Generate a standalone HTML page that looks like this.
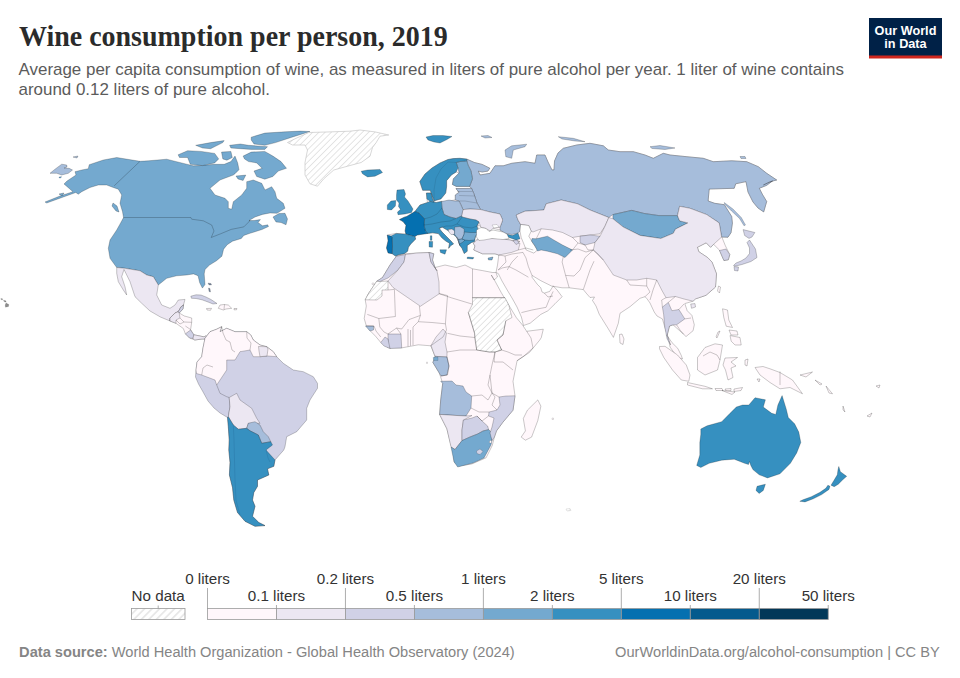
<!DOCTYPE html>
<html><head><meta charset="utf-8">
<style>
html,body{margin:0;padding:0;background:#fff;width:960px;height:678px;overflow:hidden}
svg{display:block}
.sans{font-family:"Liberation Sans",sans-serif}
.serif{font-family:"Liberation Serif",serif}
</style></head>
<body>
<svg width="960" height="678" viewBox="0 0 960 678">
<defs>
<pattern id="hatch" patternUnits="userSpaceOnUse" width="4.4" height="4.4" patternTransform="rotate(-45)">
<rect width="4.4" height="4.4" fill="#ffffff"/>
<line x1="0" y1="2.2" x2="4.4" y2="2.2" stroke="#e0e0e0" stroke-width="0.85"/>
</pattern>
<pattern id="hatch2" patternUnits="userSpaceOnUse" width="5.3" height="5.3" patternTransform="rotate(-45)">
<rect width="5.3" height="5.3" fill="#ffffff"/>
<line x1="0" y1="2.65" x2="5.3" y2="2.65" stroke="#d2d2d2" stroke-width="0.9"/>
</pattern>
</defs>
<rect width="960" height="678" fill="#ffffff"/>
<text class="serif" transform="translate(18.9,45.7) scale(1,1.065)" x="0" y="0" font-size="28" font-weight="bold" fill="#2b2b2b">Wine consumption per person, 2019</text>
<text class="sans" x="18.5" y="75.1" font-size="16.95" fill="#5b5b5b">Average per capita consumption of wine, as measured in liters of pure alcohol per year. 1 liter of wine contains</text>
<text class="sans" x="18.5" y="95.1" font-size="16.95" fill="#5b5b5b">around 0.12 liters of pure alcohol.</text>
<g>
<rect x="869" y="18" width="73" height="40" fill="#002147"/>
<rect x="869" y="55.5" width="73" height="3" fill="#ce261e"/>
<text class="sans" x="905.5" y="34.8" font-size="12.7" font-weight="bold" fill="#ffffff" text-anchor="middle">Our World</text>
<text class="sans" x="905.5" y="48.4" font-size="12.7" font-weight="bold" fill="#ffffff" text-anchor="middle">in Data</text>
</g>
<g id="map">
<path d="M45.0,202.0 L60.0,196.0 L73.0,191.7 L64.0,184.0 L67.0,181.0 L76.0,175.0 L75.0,171.7 L81.7,170.0 L88.3,168.7 L89.2,164.7 L103.3,160.0 L116.7,157.5 L140.0,161.3 L148.3,160.8 L166.7,159.2 L176.7,161.7 L186.7,164.2 L193.3,165.8 L199.8,165.6 L214.7,164.3 L224.2,164.3 L230.9,161.6 L235.0,156.1 L237.7,162.9 L239.0,169.7 L235.0,173.7 L233.3,175.0 L220.0,180.0 L210.0,188.3 L215.0,195.0 L225.0,198.3 L228.3,201.7 L228.3,208.3 L231.7,209.2 L233.3,201.7 L241.7,195.0 L246.7,188.3 L246.7,181.7 L253.3,180.0 L261.7,183.3 L265.0,190.0 L271.7,186.7 L275.0,191.7 L276.7,198.3 L283.3,203.3 L285.0,208.3 L277.0,213.3 L270.0,213.0 L262.5,214.4 L255.0,217.0 L249.0,220.6 L254.0,220.5 L260.4,219.6 L258.0,222.5 L262.5,225.8 L267.7,224.8 L268.5,226.5 L262.0,229.5 L254.2,232.0 L250.0,233.3 L243.8,235.4 L241.3,238.5 L232.5,241.2 L227.2,244.7 L223.6,249.2 L221.9,256.2 L216.5,260.7 L209.5,265.1 L205.0,269.5 L204.2,273.9 L205.0,284.6 L202.4,288.1 L199.7,282.8 L198.0,275.7 L193.5,273.9 L186.7,275.0 L176.7,275.8 L166.7,278.3 L158.3,285.0 L153.3,276.7 L146.7,275.0 L140.0,270.8 L125.0,268.3 L116.7,267.5 L110.0,258.3 L108.3,248.3 L110.0,240.0 L116.7,230.0 L121.7,221.0 L123.5,217.5 L122.5,211.7 L120.0,203.3 L121.7,195.0 L118.3,189.2 L113.3,187.5 L106.7,185.0 L98.3,185.0 L90.0,187.5 L81.7,191.7 L78.3,194.2 L75.8,192.5 L46.7,203.0Z" fill="#74a9cf" stroke="rgba(0,0,0,0.36)" stroke-width="0.6" stroke-linejoin="round"/>
<path d="M140.0,161.3 L114.2,185.8" fill="none" stroke="rgba(0,0,0,0.36)" stroke-width="0.6" stroke-linejoin="round"/>
<path d="M123.5,217.5 L190.8,217.5 L191.7,219.2 L203.3,220.8 L211.7,225.0 L214.0,231.0 L211.2,237.5 L220.6,233.8 L231.2,229.4 L243.8,226.9 L248.8,221.9 L250.0,220.0" fill="none" stroke="rgba(0,0,0,0.36)" stroke-width="0.6" stroke-linejoin="round"/>
<path d="M113.0,203.0 L117.0,206.0 L119.0,212.0 L116.0,211.0 L112.0,206.0Z" fill="#74a9cf" stroke="rgba(0,0,0,0.36)" stroke-width="0.6" stroke-linejoin="round"/>
<path d="M273.0,217.0 L279.0,213.5 L285.0,213.3 L287.5,219.0 L286.0,224.8 L281.0,222.5 L276.0,222.0Z" fill="#74a9cf" stroke="rgba(0,0,0,0.36)" stroke-width="0.6" stroke-linejoin="round"/>
<path d="M243.1,156.1 L251.2,152.1 L264.8,151.4 L272.9,156.1 L281.0,161.6 L286.5,168.3 L278.3,171.0 L272.9,176.5 L264.8,179.2 L256.7,176.5 L254.0,171.0 L262.1,168.3 L256.7,162.9 L248.5,161.6 L244.5,158.9Z" fill="#74a9cf" stroke="rgba(0,0,0,0.36)" stroke-width="0.6" stroke-linejoin="round"/>
<path d="M236.0,176.0 L245.8,175.1 L243.1,180.5 L238.0,179.0Z" fill="#74a9cf" stroke="rgba(0,0,0,0.36)" stroke-width="0.6" stroke-linejoin="round"/>
<path d="M178.1,154.8 L187.6,150.7 L201.1,151.4 L214.7,153.4 L218.7,158.9 L214.7,162.9 L202.5,165.6 L190.3,164.3 L187.6,157.5 L179.5,157.5Z" fill="#74a9cf" stroke="rgba(0,0,0,0.36)" stroke-width="0.6" stroke-linejoin="round"/>
<path d="M195.7,145.3 L210.6,142.6 L224.2,140.6 L222.8,142.6 L210.6,148.7 L202.5,148.0Z" fill="#74a9cf" stroke="rgba(0,0,0,0.36)" stroke-width="0.6" stroke-linejoin="round"/>
<path d="M251.2,137.2 L264.8,133.1 L285.1,131.8 L300.0,131.1 L310.0,131.5 L291.9,137.2 L275.6,142.6 L264.8,145.3 L254.0,144.0 L251.2,139.9Z" fill="#74a9cf" stroke="rgba(0,0,0,0.36)" stroke-width="0.6" stroke-linejoin="round"/>
<path d="M229.6,145.3 L240.4,144.0 L248.5,145.3 L267.5,146.7 L264.8,149.4 L251.2,149.4 L240.4,148.7 L230.9,148.0Z" fill="#74a9cf" stroke="rgba(0,0,0,0.36)" stroke-width="0.6" stroke-linejoin="round"/>
<path d="M221.5,152.1 L230.9,151.4 L232.3,157.5 L226.9,160.2 L222.8,158.9Z" fill="#74a9cf" stroke="rgba(0,0,0,0.36)" stroke-width="0.6" stroke-linejoin="round"/>
<path d="M59.0,194.0 L64.0,193.0 L62.0,196.0Z" fill="#74a9cf" stroke="rgba(0,0,0,0.36)" stroke-width="0.6" stroke-linejoin="round"/>
<path d="M50.0,173.3 L55.0,169.2 L61.7,164.2 L66.7,165.0 L67.0,167.0 L64.0,168.0 L69.2,168.3 L72.5,170.0 L68.3,173.3 L61.7,175.0 L56.7,173.3Z" fill="#a6bddb" stroke="rgba(0,0,0,0.36)" stroke-width="0.6" stroke-linejoin="round"/>
<path d="M59.0,177.0 L61.5,176.5 L61.0,178.0 L59.0,178.0Z" fill="#74a9cf" stroke="rgba(0,0,0,0.36)" stroke-width="0.35" stroke-linejoin="round"/>
<path d="M73.0,157.0 L78.0,156.0 L77.0,158.0Z" fill="#a6bddb" stroke="rgba(0,0,0,0.36)" stroke-width="0.6" stroke-linejoin="round"/>
<path d="M0.8,298.6 L2.5,298.8 L2.6,299.8 L1.0,299.6Z" fill="#8c8c8c" stroke="rgba(0,0,0,0.36)" stroke-width="0.3" stroke-linejoin="round"/>
<path d="M3.5,300.2 L5.8,300.8 L6.2,302.2 L4.0,301.6Z" fill="#8c8c8c" stroke="rgba(0,0,0,0.36)" stroke-width="0.3" stroke-linejoin="round"/>
<path d="M6.0,303.0 L8.8,304.5 L8.5,306.5 L5.5,307.2 L5.2,305.0Z" fill="#8c8c8c" stroke="rgba(0,0,0,0.36)" stroke-width="0.3" stroke-linejoin="round"/>
<path d="M287.5,142.5 L295.0,138.8 L308.8,132.5 L330.0,131.9 L350.0,131.2 L360.0,130.0 L375.0,131.9 L388.8,135.0 L380.0,136.2 L376.2,142.5 L372.5,147.5 L370.0,156.2 L361.2,162.5 L347.5,166.2 L333.8,170.0 L323.8,178.8 L317.5,186.2 L310.0,183.8 L305.0,175.0 L305.0,162.5 L307.5,150.0 L305.0,145.0 L292.5,145.0Z" fill="url(#hatch)" stroke="#bdbdbd" stroke-width="0.6" stroke-linejoin="round"/>
<path d="M361.2,171.2 L367.5,170.0 L380.0,169.4 L382.5,172.5 L375.0,176.2 L367.5,176.9 L362.5,173.8Z" fill="#3690c0" stroke="rgba(0,0,0,0.36)" stroke-width="0.6" stroke-linejoin="round"/>
<path d="M116.7,267.5 L125.0,268.3 L140.0,270.8 L146.7,275.0 L153.3,276.7 L158.3,285.0 L156.7,295.0 L161.7,305.0 L170.0,308.3 L175.0,305.0 L178.3,300.0 L185.0,299.4 L183.5,305.0 L181.2,306.7 L178.3,311.7 L175.0,313.0 L170.0,318.0 L170.0,321.0 L168.8,320.5 L160.4,317.0 L150.0,311.0 L141.7,303.3 L135.0,296.7 L130.0,281.7 L124.0,269.5 L121.7,276.7 L125.0,286.7 L126.7,295.0 L123.3,290.0 L118.3,281.7 L116.7,273.3Z" fill="#ece7f2" stroke="rgba(0,0,0,0.36)" stroke-width="0.6" stroke-linejoin="round"/>
<path d="M175.0,313.0 L178.3,311.7 L181.2,306.7 L183.5,305.0 L183.0,309.0 L179.2,313.0 L184.4,316.0 L191.7,318.0 L191.7,322.3 L190.6,329.6 L193.8,334.8 L199.0,335.8 L204.0,336.9 L206.2,335.8 L208.0,338.0 L206.2,339.0 L202.0,339.0 L194.8,340.0 L189.6,338.0 L185.4,333.8 L183.3,328.5 L176.0,323.3 L170.0,321.0 L170.0,318.0Z" fill="#fff7fb" stroke="rgba(0,0,0,0.36)" stroke-width="0.6" stroke-linejoin="round"/>
<path d="M170.0,318.0 L175.0,313.0 L178.3,311.7 L179.2,313.0 L180.0,318.0 L176.0,320.0 L176.0,323.3 L170.0,321.0Z" fill="#ece7f2" stroke="rgba(0,0,0,0.36)" stroke-width="0.6" stroke-linejoin="round"/>
<path d="M178.3,311.7 L181.2,306.7 L183.5,305.0 L183.0,309.0 L179.2,313.0Z" fill="#d0d1e6" stroke="rgba(0,0,0,0.36)" stroke-width="0.6" stroke-linejoin="round"/>
<path d="M180.0,318.0 L184.0,322.0 L191.7,322.3" fill="none" stroke="rgba(0,0,0,0.36)" stroke-width="0.6" stroke-linejoin="round"/>
<path d="M176.0,320.0 L180.0,324.0 L184.0,322.0" fill="none" stroke="rgba(0,0,0,0.36)" stroke-width="0.6" stroke-linejoin="round"/>
<path d="M185.4,326.0 L190.6,329.6" fill="none" stroke="rgba(0,0,0,0.36)" stroke-width="0.6" stroke-linejoin="round"/>
<path d="M185.4,333.8 L190.6,330.0 L193.8,334.8 L193.0,338.5 L189.6,338.0Z" fill="#d0d1e6" stroke="rgba(0,0,0,0.36)" stroke-width="0.6" stroke-linejoin="round"/>
<path d="M193.8,334.8 L199.0,335.8 L204.0,336.9 L206.2,335.8 L208.0,338.0 L206.2,339.0 L202.0,339.0 L194.8,340.0 L193.0,338.5Z" fill="#ece7f2" stroke="rgba(0,0,0,0.36)" stroke-width="0.6" stroke-linejoin="round"/>
<path d="M190.8,296.2 L196.0,294.8 L201.0,295.0 L206.0,297.0 L211.0,299.5 L217.0,303.5 L213.0,304.0 L208.0,302.0 L202.0,299.8 L196.0,298.5 L191.5,298.3Z" fill="#d0d1e6" stroke="rgba(0,0,0,0.36)" stroke-width="0.6" stroke-linejoin="round"/>
<path d="M220.0,305.0 L224.0,304.5 L228.3,305.0 L231.7,308.3 L226.0,309.0 L223.3,310.0 L218.3,308.3Z" fill="#fff7fb" stroke="rgba(0,0,0,0.36)" stroke-width="0.6" stroke-linejoin="round"/>
<path d="M224.5,304.5 L224.0,309.5" fill="none" stroke="rgba(0,0,0,0.36)" stroke-width="0.6" stroke-linejoin="round"/>
<path d="M206.5,308.5 L211.5,308.3 L210.5,310.3 L207.0,310.0Z" fill="#fff7fb" stroke="rgba(0,0,0,0.36)" stroke-width="0.6" stroke-linejoin="round"/>
<path d="M208.0,283.0 L211.0,283.5 L211.5,285.0 L209.0,285.0Z" fill="#7a8aa0" stroke="rgba(0,0,0,0.36)" stroke-width="0.4" stroke-linejoin="round"/>
<path d="M208.5,288.0 L210.0,288.5 L210.5,292.0 L209.0,291.5Z" fill="#7a8aa0" stroke="rgba(0,0,0,0.36)" stroke-width="0.4" stroke-linejoin="round"/>
<path d="M234.0,308.5 L237.0,308.5 L236.5,309.8 L234.0,309.8Z" fill="#fff7fb" stroke="rgba(0,0,0,0.36)" stroke-width="0.6" stroke-linejoin="round"/>
<path d="M205.0,338.3 L210.0,331.7 L216.7,329.2 L221.7,326.7 L220.0,331.7 L226.7,328.3 L235.0,331.7 L246.7,331.7 L250.8,335.0 L253.3,340.0 L260.0,345.0 L266.7,346.7 L273.3,351.7 L276.7,356.7 L283.3,363.3 L293.3,370.0 L303.3,371.7 L313.3,376.7 L317.5,383.3 L317.5,388.3 L310.0,400.0 L306.7,408.3 L306.7,420.0 L296.7,431.7 L286.7,436.7 L285.0,446.7 L283.8,450.0 L275.0,460.0 L273.8,466.3 L267.5,468.8 L268.8,475.0 L257.5,480.0 L257.5,486.3 L253.8,492.5 L252.5,500.0 L255.0,506.3 L252.5,516.3 L258.8,522.5 L265.0,525.6 L255.0,526.3 L245.0,521.3 L237.5,512.5 L233.8,500.0 L232.5,487.5 L229.4,475.0 L230.0,462.5 L228.8,450.0 L229.2,440.0 L228.3,426.7 L227.5,417.5 L220.0,413.0 L214.0,408.0 L208.0,401.0 L202.5,391.0 L198.5,384.0 L195.5,377.0 L196.0,370.0 L197.0,362.0 L201.7,356.7 L203.0,348.0Z" fill="#d0d1e6" stroke="rgba(0,0,0,0.36)" stroke-width="0.6" stroke-linejoin="round"/>
<path d="M205.0,338.3 L210.0,331.7 L216.7,329.2 L221.7,326.7 L220.0,331.7 L226.7,328.3 L235.0,331.7 L246.7,331.7 L250.8,335.0 L253.3,340.0 L260.0,345.0 L266.7,346.7 L273.3,351.7 L276.7,356.7 L268.0,356.0 L260.0,356.7 L253.3,356.7 L250.0,350.0 L240.0,351.7 L235.0,360.0 L226.7,360.0 L226.7,370.0 L216.7,385.0 L215.0,380.0 L201.7,375.0 L196.5,373.5 L196.0,370.0 L197.0,362.0 L201.7,356.7 L203.0,348.0Z" fill="#fff7fb" stroke="rgba(0,0,0,0.36)" stroke-width="0.6" stroke-linejoin="round"/>
<path d="M221.7,326.7 L223.0,333.0 L226.0,340.0 L230.0,342.0 L232.0,350.0 L235.0,352.0" fill="none" stroke="rgba(0,0,0,0.36)" stroke-width="0.6" stroke-linejoin="round"/>
<path d="M246.7,331.7 L247.0,338.0 L251.0,343.0 L250.0,350.0" fill="none" stroke="rgba(0,0,0,0.36)" stroke-width="0.6" stroke-linejoin="round"/>
<path d="M258.5,346.5 L266.7,346.7 L268.0,349.0 L267.0,356.0 L260.0,356.7 L259.0,351.0Z" fill="#ece7f2" stroke="rgba(0,0,0,0.36)" stroke-width="0.6" stroke-linejoin="round"/>
<path d="M201.7,375.0 L203.0,368.0 L207.0,365.0 L213.0,367.0" fill="none" stroke="rgba(0,0,0,0.36)" stroke-width="0.6" stroke-linejoin="round"/>
<path d="M216.7,385.0 L220.0,393.3 L226.7,396.7 L229.2,397.5 L230.0,406.7 L228.3,416.7 L227.5,417.5" fill="none" stroke="rgba(0,0,0,0.36)" stroke-width="0.6" stroke-linejoin="round"/>
<path d="M229.2,397.5 L236.7,393.3 L240.0,400.0 L251.7,408.3 L256.7,418.3 L260.0,423.3 L248.3,423.3 L246.7,428.3 L238.3,429.2 L233.3,425.0 L228.3,416.7 L230.0,406.7Z" fill="#ece7f2" stroke="rgba(0,0,0,0.36)" stroke-width="0.6" stroke-linejoin="round"/>
<path d="M248.3,423.3 L255.0,421.7 L260.0,425.0 L263.3,431.7 L268.3,436.7 L270.8,441.7 L261.7,443.3 L258.3,435.0 L250.0,430.8 L246.7,428.3Z" fill="#a6bddb" stroke="rgba(0,0,0,0.36)" stroke-width="0.6" stroke-linejoin="round"/>
<path d="M227.5,417.5 L228.3,416.7 L233.3,425.0 L238.3,429.2 L246.7,428.3 L250.0,430.8 L258.3,435.0 L261.7,443.3 L270.8,441.7 L272.5,445.0 L266.0,450.0 L275.0,460.0 L273.8,466.3 L267.5,468.8 L268.8,475.0 L257.5,480.0 L257.5,486.3 L253.8,492.5 L252.5,500.0 L255.0,506.3 L252.5,516.3 L258.8,522.5 L265.0,525.6 L255.0,526.3 L245.0,521.3 L237.5,512.5 L233.8,500.0 L232.5,487.5 L229.4,475.0 L230.0,462.5 L228.8,450.0 L229.2,440.0 L228.3,426.7Z" fill="#3690c0" stroke="rgba(0,0,0,0.36)" stroke-width="0.6" stroke-linejoin="round"/>
<path d="M233.3,425.0 L234.0,440.0 L234.5,460.0 L235.0,480.0 L236.0,500.0 L240.0,515.0" fill="none" stroke="#2a78a8" stroke-width="0.5" stroke-linejoin="round"/>
<path d="M266.0,450.0 L268.0,458.0 L270.0,462.0" fill="none" stroke="#2a78a8" stroke-width="0.5" stroke-linejoin="round"/>
<path d="M387.3,235.0 L396.2,233.4 L406.0,234.2 L405.1,231.0 L406.0,225.3 L403.0,221.5 L399.5,219.6 L404.3,217.2 L406.8,216.4 L412.4,213.1 L414.9,211.5 L420.0,205.0 L427.5,202.5 L426.9,198.8 L426.4,193.0 L431.0,193.0 L432.5,198.8 L434.0,202.0 L436.3,202.5 L441.3,201.3 L443.8,201.8 L455.3,199.9 L455.3,195.0 L459.1,192.2 L457.0,190.0 L456.0,188.5 L471.6,188.4 L469.6,186.4 L456.2,186.4 L452.4,184.5 L453.4,178.8 L459.1,173.0 L456.2,172.0 L451.4,174.9 L446.6,180.7 L446.6,186.4 L445.7,193.1 L440.9,198.9 L434.2,200.8 L432.3,196.0 L430.3,190.3 L422.7,190.3 L419.8,181.6 L425.0,174.0 L432.0,168.0 L440.0,163.0 L448.0,159.5 L453.4,158.6 L460.0,158.3 L466.8,159.1 L474.4,162.5 L482.1,164.4 L489.8,168.2 L487.9,171.1 L482.1,172.0 L478.3,171.1 L480.0,175.0 L490.0,173.3 L495.0,165.8 L503.3,165.8 L511.7,163.3 L525.0,161.7 L535.0,163.3 L536.7,155.0 L545.0,155.0 L548.0,162.0 L552.0,170.0 L554.0,170.0 L554.5,161.0 L558.0,153.0 L563.3,148.3 L576.7,145.0 L590.0,143.3 L603.3,145.8 L608.3,150.0 L620.0,151.7 L633.3,151.7 L645.0,155.0 L653.3,158.3 L663.3,153.3 L670.0,155.0 L686.7,156.7 L703.3,158.3 L713.3,161.7 L731.7,160.8 L746.7,161.7 L758.3,166.7 L766.7,173.3 L776.7,180.0 L770.0,181.7 L763.3,185.0 L772.6,180.9 L766.7,185.3 L759.3,188.3 L762.3,194.2 L766.7,201.5 L763.7,211.9 L758.0,208.0 L753.0,202.0 L748.0,192.0 L746.0,181.6 L735.7,183.8 L734.2,188.3 L709.2,189.0 L708.1,201.0 L714.7,203.3 L724.3,204.7 L728.0,210.6 L731.7,216.5 L732.4,223.2 L731.0,232.7 L728.0,237.2 L721.7,237.0 L722.4,238.4 L725.4,245.8 L729.8,254.6 L728.3,259.8 L723.9,260.5 L719.5,250.2 L713.6,244.3 L710.6,247.3 L706.2,242.8 L697.4,247.3 L698.8,251.7 L707.7,257.6 L712.0,262.0 L716.5,273.8 L715.5,287.0 L706.0,295.3 L695.5,298.9 L693.0,301.2 L684.8,303.6 L687.2,310.7 L691.9,315.4 L694.3,324.8 L693.1,330.7 L686.0,336.6 L683.7,334.3 L676.6,328.0 L673.0,324.8 L669.5,326.0 L667.1,335.5 L671.9,342.5 L677.8,348.4 L681.3,355.5 L682.5,359.0 L677.5,357.5 L670.0,347.0 L668.3,338.0 L664.8,327.2 L662.4,318.9 L657.0,316.0 L654.2,312.0 L650.0,303.0 L647.1,298.9 L645.0,296.7 L640.0,298.3 L630.0,306.7 L620.0,313.3 L618.3,323.3 L613.4,337.4 L608.1,328.5 L599.3,314.4 L596.0,306.0 L592.5,300.5 L594.5,297.0 L590.0,297.5 L586.5,293.5 L583.3,289.6 L569.2,287.8 L562.1,287.8 L551.5,286.0 L540.8,280.7 L532.0,275.4 L532.0,277.2 L537.3,284.3 L540.8,287.8 L542.0,292.0 L544.4,293.1 L549.7,291.4 L553.2,286.0 L556.8,289.6 L562.1,296.7 L555.0,303.8 L547.9,310.8 L540.8,314.4 L530.2,323.2 L523.5,325.5 L521.4,317.0 L517.0,307.0 L512.0,298.0 L507.2,290.0 L502.0,281.0 L498.3,273.6 L496.0,272.5 L497.5,265.0 L498.8,255.0 L495.0,253.8 L482.5,253.8 L473.8,250.0 L475.0,246.0 L473.3,243.3 L476.7,240.0 L486.7,238.3 L498.3,238.3 L510.0,240.0 L520.0,241.7 L505.0,233.3 L500.0,230.0 L493.3,228.3 L490.0,225.0 L481.7,226.7 L477.5,225.0 L478.8,220.0 L477.5,225.0 L478.8,232.5 L475.0,235.0 L474.0,242.0 L471.6,242.4 L467.2,245.4 L467.2,251.3 L464.2,253.5 L462.0,248.3 L459.8,245.4 L458.3,241.0 L456.8,237.3 L453.2,234.3 L448.0,230.6 L442.1,227.0 L439.2,228.4 L442.1,232.1 L446.5,236.5 L451.0,241.0 L453.5,243.9 L451.0,245.4 L450.2,246.1 L448.7,248.3 L449.5,243.2 L445.8,241.0 L442.1,238.0 L438.4,233.6 L432.5,232.8 L427.9,233.4 L422.2,234.2 L417.3,235.0 L414.9,236.6 L415.7,239.0 L414.0,240.7 L410.8,243.9 L408.4,247.2 L407.6,251.2 L404.3,253.7 L399.5,254.5 L395.4,256.0 L392.2,253.7 L388.1,252.9 L386.5,248.0 L388.1,240.7Z" fill="#fff7fb" stroke="rgba(0,0,0,0.36)" stroke-width="0.6" stroke-linejoin="round"/>
<path d="M466.8,159.1 L474.4,162.5 L482.1,164.4 L489.8,168.2 L487.9,171.1 L482.1,172.0 L478.3,171.1 L480.0,175.0 L490.0,173.3 L495.0,165.8 L503.3,165.8 L511.7,163.3 L525.0,161.7 L535.0,163.3 L536.7,155.0 L545.0,155.0 L548.0,162.0 L552.0,170.0 L554.0,170.0 L554.5,161.0 L558.0,153.0 L563.3,148.3 L576.7,145.0 L590.0,143.3 L603.3,145.8 L608.3,150.0 L620.0,151.7 L633.3,151.7 L645.0,155.0 L653.3,158.3 L663.3,153.3 L670.0,155.0 L686.7,156.7 L703.3,158.3 L713.3,161.7 L731.7,160.8 L746.7,161.7 L758.3,166.7 L766.7,173.3 L776.7,180.0 L770.0,181.7 L763.3,185.0 L772.6,180.9 L766.7,185.3 L759.3,188.3 L762.3,194.2 L766.7,201.5 L763.7,211.9 L758.0,208.0 L753.0,202.0 L748.0,192.0 L746.0,181.6 L735.7,183.8 L734.2,188.3 L709.2,189.0 L708.1,201.0 L714.7,203.3 L724.3,204.7 L728.0,210.6 L731.7,216.5 L732.4,223.2 L731.0,232.7 L728.0,237.2 L721.7,237.0 L721.3,235.4 L719.2,222.9 L706.7,214.6 L690.0,208.3 L679.6,206.3 L677.5,215.6 L658.8,215.6 L644.2,213.5 L631.7,210.4 L612.9,214.6 L608.8,217.5 L590.0,210.0 L577.5,203.8 L561.2,200.0 L546.2,203.8 L543.8,210.0 L525.0,211.2 L516.2,215.0 L518.0,220.0 L520.6,224.4 L520.0,231.2 L518.0,233.0 L512.0,234.5 L505.0,233.3 L500.0,230.0 L500.0,227.3 L502.7,220.0 L500.0,214.0 L490.0,212.0 L480.6,209.6 L477.0,203.0 L474.0,194.0 L471.6,188.4 L469.6,186.4 L472.5,178.8 L471.0,171.0 L468.0,165.0 L466.8,160.5Z" fill="#a6bddb" stroke="rgba(0,0,0,0.36)" stroke-width="0.6" stroke-linejoin="round"/>
<path d="M516.2,215.0 L525.0,211.2 L543.8,210.0 L546.2,203.8 L561.2,200.0 L577.5,203.8 L590.0,210.0 L608.8,217.5 L605.0,226.2 L600.0,233.8 L590.0,235.0 L580.0,236.2 L572.5,237.5 L562.5,232.5 L552.5,230.0 L541.2,228.8 L533.0,232.0 L531.2,231.2 L528.8,225.6 L520.6,224.4 L518.0,220.0Z" fill="#ece7f2" stroke="rgba(0,0,0,0.36)" stroke-width="0.6" stroke-linejoin="round"/>
<path d="M520.6,224.4 L528.8,225.6 L531.2,231.2 L528.8,236.2 L532.5,242.5 L537.5,250.0 L533.8,253.1 L526.2,250.0 L523.8,243.8 L521.2,237.5 L520.0,231.2Z" fill="#ffffff" stroke="rgba(0,0,0,0.36)" stroke-width="0.6" stroke-linejoin="round"/>
<path d="M532.0,238.5 L536.2,238.8 L547.5,236.2 L553.8,240.0 L562.5,245.0 L572.5,250.0 L565.0,257.5 L557.5,253.8 L547.5,251.2 L541.2,250.0 L537.5,251.0 L535.0,246.0 L531.5,241.0Z" fill="#74a9cf" stroke="rgba(0,0,0,0.36)" stroke-width="0.6" stroke-linejoin="round"/>
<path d="M541.2,228.8 L536.2,238.8" fill="none" stroke="rgba(0,0,0,0.36)" stroke-width="0.6" stroke-linejoin="round"/>
<path d="M572.5,237.5 L578.0,243.0 L572.5,250.0" fill="none" stroke="rgba(0,0,0,0.36)" stroke-width="0.6" stroke-linejoin="round"/>
<path d="M580.0,236.2 L590.0,235.0 L600.0,236.2 L595.0,242.5 L585.0,245.0 L580.0,242.5Z" fill="#d0d1e6" stroke="rgba(0,0,0,0.36)" stroke-width="0.6" stroke-linejoin="round"/>
<path d="M578.0,243.0 L585.0,245.0 L588.0,250.0 L593.3,250.0" fill="none" stroke="rgba(0,0,0,0.36)" stroke-width="0.6" stroke-linejoin="round"/>
<path d="M612.9,214.6 L631.7,210.4 L644.2,213.5 L658.8,215.6 L677.5,215.6 L679.6,220.8 L687.9,222.9 L675.4,229.2 L673.3,233.3 L660.8,238.5 L640.0,235.4 L623.3,227.1 L612.9,218.8Z" fill="#74a9cf" stroke="rgba(0,0,0,0.36)" stroke-width="0.6" stroke-linejoin="round"/>
<path d="M600.0,236.2 L605.0,226.2 L608.8,217.5 L612.9,218.8 L623.3,227.1 L640.0,235.4 L660.8,238.5 L673.3,233.3 L675.4,229.2 L687.9,222.9 L679.6,220.8 L677.5,215.6 L679.6,206.3 L690.0,208.3 L706.7,214.6 L719.2,222.9 L721.3,235.4 L721.7,237.0 L713.6,244.3 L710.6,247.3 L706.2,242.8 L697.4,247.3 L698.8,251.7 L707.7,257.6 L712.0,262.0 L716.5,273.8 L715.5,287.0 L706.0,295.3 L695.5,298.9 L693.0,301.2 L684.0,299.0 L675.4,296.5 L666.0,297.7 L661.7,290.0 L656.7,280.0 L646.7,278.3 L636.7,280.0 L626.7,280.0 L613.3,275.0 L610.0,270.0 L603.3,260.0 L593.3,250.0 L595.0,242.5Z" fill="#ece7f2" stroke="rgba(0,0,0,0.36)" stroke-width="0.6" stroke-linejoin="round"/>
<path d="M719.5,250.5 L726.0,249.0 L729.8,254.6 L728.3,259.8 L723.9,260.5Z" fill="#d0d1e6" stroke="rgba(0,0,0,0.36)" stroke-width="0.6" stroke-linejoin="round"/>
<path d="M743.1,229.6 L754.9,232.5 L752.0,237.0 L749.0,238.4 L744.6,235.5Z" fill="#d0d1e6" stroke="rgba(0,0,0,0.36)" stroke-width="0.6" stroke-linejoin="round"/>
<path d="M749.5,240.0 L755.5,249.0 L757.0,257.5 L751.0,261.5 L742.0,264.5 L736.0,266.0 L733.5,265.5 L736.0,263.0 L741.0,261.0 L746.0,258.0 L749.5,253.5 L749.5,248.0 L747.0,242.5Z" fill="#d0d1e6" stroke="rgba(0,0,0,0.36)" stroke-width="0.6" stroke-linejoin="round"/>
<path d="M734.0,266.5 L738.5,267.0 L738.0,271.0 L734.5,270.5Z" fill="#d0d1e6" stroke="rgba(0,0,0,0.36)" stroke-width="0.6" stroke-linejoin="round"/>
<path d="M718.5,286.0 L720.5,287.0 L719.5,293.0 L717.5,291.0Z" fill="#fff7fb" stroke="rgba(0,0,0,0.36)" stroke-width="0.6" stroke-linejoin="round"/>
<path d="M724.3,202.5 L733.0,209.0 L741.3,217.5 L745.5,225.0 L744.0,225.8 L739.5,218.5 L731.5,211.0 L724.5,204.0Z" fill="#a6bddb" stroke="rgba(0,0,0,0.36)" stroke-width="0.5" stroke-linejoin="round"/>
<path d="M690.7,304.0 L695.0,303.6 L695.5,307.0 L691.5,308.3Z" fill="#ece7f2" stroke="rgba(0,0,0,0.36)" stroke-width="0.6" stroke-linejoin="round"/>
<path d="M619.5,334.5 L622.0,334.0 L624.0,339.0 L623.0,344.5 L620.0,343.0Z" fill="#fff7fb" stroke="rgba(0,0,0,0.36)" stroke-width="0.6" stroke-linejoin="round"/>
<path d="M505.0,150.0 L511.7,145.8 L526.7,144.2 L525.0,146.7 L513.3,150.0 L511.7,158.3 L505.8,156.7Z" fill="#a6bddb" stroke="rgba(0,0,0,0.36)" stroke-width="0.6" stroke-linejoin="round"/>
<path d="M558.3,136.7 L573.3,138.3 L585.0,141.7 L575.0,141.0 L562.0,139.0Z" fill="#a6bddb" stroke="rgba(0,0,0,0.36)" stroke-width="0.6" stroke-linejoin="round"/>
<path d="M650.0,146.7 L660.0,145.5 L675.0,148.0 L665.0,149.5 L652.0,148.5Z" fill="#a6bddb" stroke="rgba(0,0,0,0.36)" stroke-width="0.6" stroke-linejoin="round"/>
<path d="M481.0,136.0 L488.0,135.5 L492.0,137.5 L485.0,138.0Z" fill="#a6bddb" stroke="rgba(0,0,0,0.36)" stroke-width="0.6" stroke-linejoin="round"/>
<path d="M740.0,156.5 L745.0,156.5 L746.0,158.5 L741.0,158.5Z" fill="#a6bddb" stroke="rgba(0,0,0,0.36)" stroke-width="0.6" stroke-linejoin="round"/>
<path d="M426.0,137.0 L433.0,135.5 L443.0,135.5 L452.0,136.5 L447.0,139.5 L440.0,143.0 L434.0,142.0 L428.0,140.0Z" fill="#3690c0" stroke="rgba(0,0,0,0.36)" stroke-width="0.6" stroke-linejoin="round"/>
<path d="M456.2,162.5 L460.0,161.5 L466.8,160.8 L468.0,165.0 L471.0,171.0 L472.5,178.8 L469.6,186.4 L463.0,186.4 L456.2,186.4 L452.4,184.5 L453.4,178.8 L459.1,173.0 L458.0,168.0Z" fill="#74a9cf" stroke="rgba(0,0,0,0.36)" stroke-width="0.6" stroke-linejoin="round"/>
<path d="M419.8,181.6 L425.0,174.0 L432.0,168.0 L440.0,163.0 L448.0,159.5 L453.4,158.6 L460.0,158.3 L466.8,159.1 L466.8,160.8 L460.0,161.5 L456.2,162.5 L458.0,168.0 L456.2,172.0 L451.4,174.9 L446.6,180.7 L446.6,186.4 L445.7,193.1 L440.9,198.9 L434.2,200.8 L432.3,196.0 L430.3,190.3 L422.7,190.3Z" fill="#3690c0" stroke="rgba(0,0,0,0.36)" stroke-width="0.6" stroke-linejoin="round"/>
<path d="M434.2,200.8 L434.0,190.0 L436.0,178.0 L441.0,169.0 L448.0,162.0 L456.2,162.5" fill="none" stroke="rgba(0,0,0,0.18)" stroke-width="0.45" stroke-linejoin="round"/>
<path d="M456.0,188.5 L463.0,188.5 L471.6,188.4 L474.0,194.0 L477.0,203.0 L480.6,209.6 L470.0,209.0 L463.0,209.6 L461.0,205.0 L459.0,201.0 L455.3,199.9 L455.3,195.0 L459.1,192.2 L457.0,190.0Z" fill="#a6bddb" stroke="rgba(0,0,0,0.36)" stroke-width="0.6" stroke-linejoin="round"/>
<path d="M457.0,191.5 L472.5,191.5" fill="none" stroke="rgba(0,0,0,0.36)" stroke-width="0.4" stroke-linejoin="round"/>
<path d="M459.1,195.5 L475.0,196.0" fill="none" stroke="rgba(0,0,0,0.36)" stroke-width="0.4" stroke-linejoin="round"/>
<path d="M459.0,201.0 L465.0,201.0 L477.0,203.0" fill="none" stroke="rgba(0,0,0,0.36)" stroke-width="0.4" stroke-linejoin="round"/>
<path d="M463.0,209.6 L470.0,209.0 L480.6,209.6 L490.0,212.0 L500.0,214.0 L502.7,220.0 L500.0,227.3 L494.0,227.5 L490.0,231.0 L486.0,228.5 L481.0,227.5 L479.0,222.0 L476.0,220.0 L470.0,219.0 L462.0,217.0 L461.5,216.0Z" fill="#ece7f2" stroke="rgba(0,0,0,0.36)" stroke-width="0.6" stroke-linejoin="round"/>
<path d="M441.5,201.5 L449.0,200.0 L455.0,201.0 L459.0,201.0 L461.0,205.0 L463.0,209.6 L461.5,216.0 L456.0,218.5 L450.0,217.0 L444.0,214.5 L442.0,208.0Z" fill="#a6bddb" stroke="rgba(0,0,0,0.36)" stroke-width="0.6" stroke-linejoin="round"/>
<path d="M414.9,211.5 L420.0,205.0 L427.5,202.5 L430.0,201.3 L436.3,202.5 L441.5,201.5 L442.0,208.0 L444.0,214.5 L450.0,217.0 L456.0,218.5 L461.5,216.0 L462.0,217.0 L470.0,219.0 L476.0,220.0 L479.0,222.0 L477.0,226.0 L478.8,232.5 L475.5,236.0 L474.5,241.5 L471.6,242.4 L467.2,245.4 L467.2,251.3 L464.2,253.5 L462.0,248.3 L459.8,245.4 L458.3,241.0 L456.8,237.3 L453.2,234.3 L448.0,230.6 L442.1,227.0 L439.2,228.4 L442.1,232.1 L446.5,236.5 L451.0,241.0 L453.5,243.9 L451.0,245.4 L450.2,246.1 L448.7,248.3 L449.5,243.2 L445.8,241.0 L442.1,238.0 L438.4,233.6 L432.5,232.8 L427.9,233.4 L425.4,231.0 L424.0,225.0 L424.6,218.8 L419.0,213.0Z" fill="#3690c0" stroke="rgba(0,0,0,0.36)" stroke-width="0.6" stroke-linejoin="round"/>
<path d="M426.4,193.0 L431.0,193.0 L432.5,198.8 L434.0,202.0 L430.0,201.3 L426.9,199.0Z" fill="#3690c0" stroke="rgba(0,0,0,0.36)" stroke-width="0.6" stroke-linejoin="round"/>
<path d="M424.6,218.8 L431.0,217.0 L437.0,214.0 L442.0,208.0" fill="none" stroke="rgba(0,0,0,0.28)" stroke-width="0.5" stroke-linejoin="round"/>
<path d="M424.0,225.0 L432.0,224.0 L441.0,222.0 L450.0,221.0 L456.0,218.5" fill="none" stroke="rgba(0,0,0,0.28)" stroke-width="0.5" stroke-linejoin="round"/>
<path d="M439.2,228.4 L446.0,226.0 L452.0,226.0 L457.0,224.0 L462.0,217.0" fill="none" stroke="rgba(0,0,0,0.28)" stroke-width="0.5" stroke-linejoin="round"/>
<path d="M457.0,224.0 L464.0,227.0 L472.0,228.0 L477.0,226.0" fill="none" stroke="rgba(0,0,0,0.28)" stroke-width="0.5" stroke-linejoin="round"/>
<path d="M448.0,229.5 L452.0,229.0 L454.6,231.0 L454.6,234.3 L451.0,234.5 L449.0,232.0Z" fill="#ece7f2" stroke="rgba(0,0,0,0.36)" stroke-width="0.6" stroke-linejoin="round"/>
<path d="M454.6,227.0 L460.0,226.5 L464.2,229.0 L464.2,234.0 L462.0,239.0 L458.5,239.5 L456.8,237.3 L454.6,234.3 L454.6,231.0Z" fill="#a6bddb" stroke="rgba(0,0,0,0.36)" stroke-width="0.6" stroke-linejoin="round"/>
<path d="M456.8,237.3 L458.5,239.5 L459.5,244.0 L459.8,245.4 L458.3,241.0Z" fill="#d0d1e6" stroke="rgba(0,0,0,0.36)" stroke-width="0.6" stroke-linejoin="round"/>
<path d="M458.5,239.5 L462.0,239.0 L465.0,240.0 L463.0,242.0 L459.5,244.0Z" fill="#74a9cf" stroke="rgba(0,0,0,0.36)" stroke-width="0.6" stroke-linejoin="round"/>
<path d="M464.2,232.0 L470.0,232.5 L478.8,232.5 L475.5,236.0 L474.5,240.0 L469.0,240.5 L465.0,240.0 L462.0,239.0 L464.2,234.0Z" fill="#74a9cf" stroke="rgba(0,0,0,0.36)" stroke-width="0.6" stroke-linejoin="round"/>
<path d="M473.3,243.3 L476.7,240.0 L486.7,238.3 L498.3,238.3 L510.0,240.0 L515.0,241.7 L520.0,243.3 L518.3,250.0 L511.3,252.5 L498.8,255.0 L495.0,253.8 L482.5,253.8 L473.8,250.0 L475.0,246.0Z" fill="#ece7f2" stroke="rgba(0,0,0,0.36)" stroke-width="0.6" stroke-linejoin="round"/>
<path d="M505.0,233.8 L512.5,235.5 L518.0,233.0 L520.0,238.8 L516.2,240.0 L508.8,237.5Z" fill="#3690c0" stroke="rgba(0,0,0,0.36)" stroke-width="0.6" stroke-linejoin="round"/>
<path d="M513.0,240.5 L517.0,240.0 L519.0,243.0 L516.0,244.5Z" fill="#d0d1e6" stroke="rgba(0,0,0,0.36)" stroke-width="0.6" stroke-linejoin="round"/>
<path d="M399.5,219.6 L404.3,217.2 L406.8,216.4 L412.4,213.1 L414.9,211.5 L419.0,213.0 L424.6,218.8 L424.0,225.0 L425.4,231.0 L427.9,233.4 L422.2,234.2 L417.3,235.0 L414.9,236.6 L406.0,234.2 L405.1,231.0 L406.0,225.3 L403.0,221.5Z" fill="#0570b0" stroke="rgba(0,0,0,0.36)" stroke-width="0.6" stroke-linejoin="round"/>
<path d="M391.0,236.0 L396.2,233.4 L406.0,234.2 L414.9,236.6 L415.7,239.0 L414.0,240.7 L410.8,243.9 L408.4,247.2 L407.6,251.2 L404.3,253.7 L399.5,254.5 L395.4,256.0 L392.2,253.7 L392.5,246.0 L392.0,237.5Z" fill="#3690c0" stroke="rgba(0,0,0,0.36)" stroke-width="0.6" stroke-linejoin="round"/>
<path d="M387.3,235.0 L391.0,236.0 L392.0,237.5 L392.5,246.0 L392.2,253.7 L388.1,252.9 L386.5,248.0 L388.1,240.7Z" fill="#0570b0" stroke="rgba(0,0,0,0.36)" stroke-width="0.6" stroke-linejoin="round"/>
<path d="M397.0,190.0 L404.0,189.5 L405.5,194.0 L404.5,197.0 L408.0,201.0 L410.5,205.0 L413.0,209.0 L411.5,212.5 L405.0,214.0 L398.0,214.7 L397.5,212.0 L400.5,209.5 L398.5,206.5 L399.0,203.0 L396.5,200.0 L396.5,195.0Z" fill="#3690c0" stroke="rgba(0,0,0,0.36)" stroke-width="0.6" stroke-linejoin="round"/>
<path d="M387.3,205.0 L391.0,201.0 L395.8,200.5 L395.4,206.0 L391.5,209.9 L387.3,209.5Z" fill="#3690c0" stroke="rgba(0,0,0,0.36)" stroke-width="0.6" stroke-linejoin="round"/>
<path d="M429.0,241.5 L432.7,241.5 L432.5,247.2 L429.2,247.0Z" fill="#3690c0" stroke="rgba(0,0,0,0.36)" stroke-width="0.6" stroke-linejoin="round"/>
<path d="M430.3,235.8 L431.9,235.8 L431.9,240.3 L430.3,240.3Z" fill="#3690c0" stroke="rgba(0,0,0,0.36)" stroke-width="0.6" stroke-linejoin="round"/>
<path d="M439.9,249.8 L446.5,249.8 L445.0,254.2 L440.5,252.5Z" fill="#3690c0" stroke="rgba(0,0,0,0.36)" stroke-width="0.6" stroke-linejoin="round"/>
<path d="M467.5,257.0 L473.8,257.5 L473.0,259.0 L467.0,258.5Z" fill="#3690c0" stroke="rgba(0,0,0,0.36)" stroke-width="0.6" stroke-linejoin="round"/>
<path d="M488.0,258.0 L493.0,257.0 L492.0,260.0 L488.5,260.0Z" fill="#74a9cf" stroke="rgba(0,0,0,0.36)" stroke-width="0.6" stroke-linejoin="round"/>
<path d="M476.5,230.0 L481.0,227.5 L486.0,228.5 L489.0,231.5 L493.0,230.0 L498.0,231.0 L503.0,232.0 L507.0,234.0 L509.0,238.5 L503.0,239.5 L492.0,238.5 L484.0,240.0 L479.0,240.5 L476.5,237.0Z" fill="#ffffff" stroke="rgba(0,0,0,0.36)" stroke-width="0.6" stroke-linejoin="round"/>
<path d="M492.0,225.0 L497.0,224.5 L499.0,227.0 L494.0,228.0Z" fill="#ffffff" stroke="rgba(0,0,0,0.36)" stroke-width="0.4" stroke-linejoin="round"/>
<path d="M396.3,256.3 L405.0,253.8 L416.3,253.1 L430.0,252.5 L433.8,253.8 L432.5,260.0 L435.0,267.5 L445.0,265.0 L456.3,267.5 L465.0,265.0 L472.5,268.8 L482.5,270.6 L492.5,272.5 L496.0,272.5 L497.5,277.0 L494.0,280.0 L491.3,275.0 L493.8,278.9 L501.3,292.7 L508.8,305.2 L516.4,317.7 L522.5,325.0 L526.7,331.3 L543.3,329.2 L541.3,337.5 L539.8,340.0 L529.5,352.4 L517.1,360.7 L513.0,381.3 L515.0,395.8 L513.0,410.2 L502.6,422.6 L496.5,430.9 L494.4,437.1 L492.3,445.4 L486.1,457.8 L471.7,464.0 L459.3,466.0 L454.1,461.9 L453.1,449.5 L451.0,445.4 L446.9,428.8 L439.6,414.4 L440.7,399.9 L442.7,383.4 L440.7,377.2 L439.2,372.9 L432.9,362.5 L435.0,356.3 L430.8,345.8 L418.3,344.8 L401.7,347.9 L388.1,347.7 L380.8,342.5 L375.6,336.3 L370.4,331.0 L366.3,325.8 L364.2,318.5 L366.3,306.0 L365.2,299.8 L368.3,293.8 L376.7,281.3 L382.5,277.5 L390.0,265.0Z" fill="#fff7fb" stroke="rgba(0,0,0,0.36)" stroke-width="0.6" stroke-linejoin="round"/>
<path d="M396.3,256.3 L405.5,254.5 L404.0,262.0 L398.0,270.0 L388.0,278.0 L380.0,281.5 L376.7,281.3 L382.5,277.5 L390.0,265.0Z" fill="#d0d1e6" stroke="rgba(0,0,0,0.36)" stroke-width="0.6" stroke-linejoin="round"/>
<path d="M376.7,281.3 L380.0,281.5 L388.0,281.0 L388.0,290.0 L382.0,290.0 L382.0,296.0 L377.0,300.0 L365.2,299.8 L368.3,293.8Z" fill="url(#hatch)" stroke="rgba(0,0,0,0.36)" stroke-width="0.6" stroke-linejoin="round"/>
<path d="M405.5,254.5 L416.3,253.1 L429.0,252.5 L431.0,262.0 L437.0,270.8 L439.0,282.0 L439.2,293.8 L420.4,306.3 L393.0,287.5 L388.0,281.0 L398.0,270.0 L404.0,262.0Z" fill="#ece7f2" stroke="rgba(0,0,0,0.36)" stroke-width="0.6" stroke-linejoin="round"/>
<path d="M429.0,252.5 L433.8,253.8 L432.5,260.0 L435.0,267.5 L437.0,270.8 L431.0,262.0Z" fill="#d0d1e6" stroke="rgba(0,0,0,0.36)" stroke-width="0.6" stroke-linejoin="round"/>
<path d="M472.5,297.7 L505.0,297.7 L508.8,305.2 L512.0,317.5 L505.8,320.8 L503.0,335.0 L497.0,340.0 L501.7,350.0 L495.0,352.0 L489.2,352.0 L476.7,350.0 L474.6,337.5 L474.6,333.3 L468.3,312.5 L472.5,304.2Z" fill="url(#hatch)" stroke="rgba(0,0,0,0.36)" stroke-width="0.6" stroke-linejoin="round"/>
<path d="M431.0,345.5 L436.0,337.0 L443.0,329.0 L446.5,333.0 L445.0,342.0 L447.0,352.0 L447.0,357.0 L438.0,356.5 L435.0,356.3Z" fill="#ece7f2" stroke="rgba(0,0,0,0.36)" stroke-width="0.6" stroke-linejoin="round"/>
<path d="M435.0,356.3 L438.0,356.5 L447.0,357.0 L449.0,366.0 L447.0,375.0 L441.0,376.0 L439.2,372.9 L432.9,362.5Z" fill="#a6bddb" stroke="rgba(0,0,0,0.36)" stroke-width="0.6" stroke-linejoin="round"/>
<path d="M433.0,357.5 L438.0,357.0 L438.0,360.5 L434.0,360.5Z" fill="#74a9cf" stroke="rgba(0,0,0,0.36)" stroke-width="0.35" stroke-linejoin="round"/>
<path d="M440.7,381.3 L452.0,381.0 L456.0,385.0 L463.0,386.0 L466.0,392.0 L471.7,396.0 L471.0,408.0 L466.0,416.0 L455.0,415.4 L439.6,414.4 L440.7,399.9 L442.7,383.4Z" fill="#a6bddb" stroke="rgba(0,0,0,0.36)" stroke-width="0.6" stroke-linejoin="round"/>
<path d="M439.6,414.4 L455.0,415.4 L466.0,416.0 L472.0,415.5 L463.4,420.0 L462.0,430.0 L462.0,440.6 L455.0,449.5 L451.0,447.0 L446.9,428.8Z" fill="#ece7f2" stroke="rgba(0,0,0,0.36)" stroke-width="0.6" stroke-linejoin="round"/>
<path d="M463.4,420.0 L472.0,418.0 L477.0,416.0 L482.0,421.0 L487.6,426.0 L488.7,429.6 L483.0,431.0 L477.6,434.0 L470.0,437.0 L462.0,440.6 L462.0,430.0Z" fill="#d0d1e6" stroke="rgba(0,0,0,0.36)" stroke-width="0.6" stroke-linejoin="round"/>
<path d="M451.0,447.0 L455.0,449.5 L462.0,440.6 L470.0,437.0 L477.6,434.0 L483.0,431.0 L488.7,429.6 L492.0,433.0 L492.0,440.6 L491.0,445.0 L484.0,458.0 L473.0,463.0 L457.7,467.0 L454.1,461.9Z" fill="#74a9cf" stroke="rgba(0,0,0,0.36)" stroke-width="0.6" stroke-linejoin="round"/>
<path d="M476.5,451.0 L480.0,449.0 L483.0,451.5 L480.0,454.5 L477.0,453.5Z" fill="#d0d1e6" stroke="rgba(0,0,0,0.36)" stroke-width="0.4" stroke-linejoin="round"/>
<path d="M489.5,441.0 L491.5,440.0 L491.5,443.0 L489.5,443.0Z" fill="#fff7fb" stroke="rgba(0,0,0,0.36)" stroke-width="0.35" stroke-linejoin="round"/>
<path d="M492.0,440.6 L494.4,437.1 L496.5,430.9 L502.6,422.6 L513.0,410.2 L515.0,395.8 L506.0,396.0 L499.0,397.0 L500.0,405.0 L497.0,410.0 L489.0,412.0 L488.5,416.0 L494.0,418.0 L492.0,427.0 L490.0,433.0Z" fill="#d0d1e6" stroke="rgba(0,0,0,0.36)" stroke-width="0.6" stroke-linejoin="round"/>
<path d="M388.0,334.0 L401.0,334.0 L401.7,347.9 L390.0,348.5 L388.0,345.0Z" fill="#d0d1e6" stroke="rgba(0,0,0,0.36)" stroke-width="0.6" stroke-linejoin="round"/>
<path d="M380.8,342.5 L385.0,337.0 L388.0,339.0 L390.0,348.5 L384.0,346.0Z" fill="#d0d1e6" stroke="rgba(0,0,0,0.36)" stroke-width="0.6" stroke-linejoin="round"/>
<path d="M365.5,326.0 L373.5,326.0 L373.5,330.0 L370.0,331.0Z" fill="#a6bddb" stroke="rgba(0,0,0,0.36)" stroke-width="0.6" stroke-linejoin="round"/>
<path d="M521.2,437.1 L525.4,430.9 L523.3,418.5 L527.4,410.2 L537.8,399.9 L540.9,406.1 L537.8,420.6 L531.6,437.1 L525.4,440.2Z" fill="#fff7fb" stroke="rgba(0,0,0,0.36)" stroke-width="0.6" stroke-linejoin="round"/>
<path d="M472.5,268.8 L472.5,297.9" fill="none" stroke="rgba(0,0,0,0.36)" stroke-width="0.6" stroke-linejoin="round"/>
<path d="M439.2,293.8 L451.7,297.9 L472.5,304.2" fill="none" stroke="rgba(0,0,0,0.36)" stroke-width="0.6" stroke-linejoin="round"/>
<path d="M439.2,293.5 L447.5,295.6 L445.4,323.8 L432.0,322.5 L418.3,321.7 L420.4,315.4 L419.4,306.0" fill="none" stroke="rgba(0,0,0,0.36)" stroke-width="0.6" stroke-linejoin="round"/>
<path d="M420.4,315.4 L409.0,319.6 L401.7,329.0 L396.5,328.0" fill="none" stroke="rgba(0,0,0,0.36)" stroke-width="0.6" stroke-linejoin="round"/>
<path d="M394.4,289.4 L395.4,316.5 L378.8,318.5 L367.3,314.4" fill="none" stroke="rgba(0,0,0,0.36)" stroke-width="0.6" stroke-linejoin="round"/>
<path d="M388.0,290.0 L394.4,289.4" fill="none" stroke="rgba(0,0,0,0.36)" stroke-width="0.6" stroke-linejoin="round"/>
<path d="M378.8,318.5 L379.8,327.0 L384.0,332.0 L388.0,334.0" fill="none" stroke="rgba(0,0,0,0.36)" stroke-width="0.6" stroke-linejoin="round"/>
<path d="M366.3,325.8 L374.0,326.0 L376.0,331.0 L380.8,337.0" fill="none" stroke="rgba(0,0,0,0.36)" stroke-width="0.6" stroke-linejoin="round"/>
<path d="M388.0,334.0 L396.5,328.0 L401.0,334.0" fill="none" stroke="rgba(0,0,0,0.36)" stroke-width="0.6" stroke-linejoin="round"/>
<path d="M408.0,329.0 L408.0,346.5" fill="none" stroke="rgba(0,0,0,0.36)" stroke-width="0.6" stroke-linejoin="round"/>
<path d="M410.5,330.0 L410.5,345.8" fill="none" stroke="rgba(0,0,0,0.36)" stroke-width="0.6" stroke-linejoin="round"/>
<path d="M413.0,327.0 L413.0,345.2" fill="none" stroke="rgba(0,0,0,0.36)" stroke-width="0.6" stroke-linejoin="round"/>
<path d="M413.0,327.0 L418.3,321.7" fill="none" stroke="rgba(0,0,0,0.36)" stroke-width="0.6" stroke-linejoin="round"/>
<path d="M445.4,323.8 L446.5,330.0 L443.0,337.0 L436.0,342.0 L430.8,345.8" fill="none" stroke="rgba(0,0,0,0.36)" stroke-width="0.6" stroke-linejoin="round"/>
<path d="M468.3,312.5 L474.6,333.3 L476.7,350.0" fill="none" stroke="rgba(0,0,0,0.36)" stroke-width="0.6" stroke-linejoin="round"/>
<path d="M447.5,333.3 L460.0,336.0 L474.6,337.5" fill="none" stroke="rgba(0,0,0,0.36)" stroke-width="0.6" stroke-linejoin="round"/>
<path d="M447.0,352.0 L460.0,350.0 L476.7,350.0 L489.2,352.0 L495.0,352.0 L501.7,350.0" fill="none" stroke="rgba(0,0,0,0.36)" stroke-width="0.6" stroke-linejoin="round"/>
<path d="M505.8,320.8 L503.0,335.0 L497.0,340.0 L501.7,350.0" fill="none" stroke="rgba(0,0,0,0.36)" stroke-width="0.6" stroke-linejoin="round"/>
<path d="M526.7,331.3 L531.0,338.0 L533.0,348.0 L524.0,356.0 L517.1,360.7" fill="none" stroke="rgba(0,0,0,0.36)" stroke-width="0.6" stroke-linejoin="round"/>
<path d="M501.7,350.0 L508.0,352.0 L515.0,355.0 L522.0,355.0" fill="none" stroke="rgba(0,0,0,0.36)" stroke-width="0.6" stroke-linejoin="round"/>
<path d="M495.0,352.0 L494.0,362.0 L503.0,362.0 L513.0,370.0" fill="none" stroke="rgba(0,0,0,0.36)" stroke-width="0.6" stroke-linejoin="round"/>
<path d="M447.0,357.0 L449.0,366.0 L447.5,375.0 L441.0,376.0" fill="none" stroke="rgba(0,0,0,0.36)" stroke-width="0.6" stroke-linejoin="round"/>
<path d="M495.0,352.0 L492.0,365.0 L490.0,375.0 L488.0,385.0 L492.0,393.0 L488.0,400.0" fill="none" stroke="rgba(0,0,0,0.36)" stroke-width="0.6" stroke-linejoin="round"/>
<path d="M471.7,396.0 L482.0,395.0 L488.0,400.0" fill="none" stroke="rgba(0,0,0,0.36)" stroke-width="0.6" stroke-linejoin="round"/>
<path d="M490.0,375.0 L492.0,393.0 L499.0,397.0" fill="none" stroke="rgba(0,0,0,0.36)" stroke-width="0.6" stroke-linejoin="round"/>
<path d="M471.0,408.0 L479.0,412.0 L489.0,412.0" fill="none" stroke="rgba(0,0,0,0.36)" stroke-width="0.6" stroke-linejoin="round"/>
<path d="M477.0,416.0 L482.0,421.0 L488.5,416.0" fill="none" stroke="rgba(0,0,0,0.36)" stroke-width="0.6" stroke-linejoin="round"/>
<path d="M492.0,393.0 L495.0,397.0 L492.0,405.0 L497.0,410.0" fill="none" stroke="rgba(0,0,0,0.36)" stroke-width="0.6" stroke-linejoin="round"/>
<path d="M498.8,255.0 L505.0,256.0 L512.0,254.0 L523.0,252.4" fill="none" stroke="rgba(0,0,0,0.36)" stroke-width="0.6" stroke-linejoin="round"/>
<path d="M505.0,256.0 L506.0,262.0 L502.0,266.0 L498.0,270.0" fill="none" stroke="rgba(0,0,0,0.36)" stroke-width="0.6" stroke-linejoin="round"/>
<path d="M517.8,256.0 L512.0,262.0 L507.2,270.0" fill="none" stroke="rgba(0,0,0,0.36)" stroke-width="0.6" stroke-linejoin="round"/>
<path d="M523.0,252.4 L526.0,258.0 L528.4,266.6 L532.0,275.4" fill="none" stroke="rgba(0,0,0,0.36)" stroke-width="0.6" stroke-linejoin="round"/>
<path d="M498.3,270.0 L502.0,268.0 L509.0,266.6 L516.0,270.0 L528.4,277.2" fill="none" stroke="rgba(0,0,0,0.36)" stroke-width="0.6" stroke-linejoin="round"/>
<path d="M518.3,250.0 L526.0,248.0 L533.3,250.0" fill="none" stroke="rgba(0,0,0,0.36)" stroke-width="0.6" stroke-linejoin="round"/>
<path d="M521.4,312.6 L532.0,310.0 L546.1,307.3" fill="none" stroke="rgba(0,0,0,0.36)" stroke-width="0.6" stroke-linejoin="round"/>
<path d="M546.1,307.3 L549.0,300.0 L553.2,291.4" fill="none" stroke="rgba(0,0,0,0.36)" stroke-width="0.6" stroke-linejoin="round"/>
<path d="M544.4,293.1 L548.0,297.0 L553.0,296.0" fill="none" stroke="rgba(0,0,0,0.36)" stroke-width="0.6" stroke-linejoin="round"/>
<path d="M563.3,256.7 L562.1,262.0 L565.6,275.4 L569.2,287.8" fill="none" stroke="rgba(0,0,0,0.36)" stroke-width="0.6" stroke-linejoin="round"/>
<path d="M570.0,250.0 L578.0,249.0 L586.0,252.0 L593.3,250.0" fill="none" stroke="rgba(0,0,0,0.36)" stroke-width="0.6" stroke-linejoin="round"/>
<path d="M565.6,275.4 L574.0,276.0 L580.0,270.0 L585.0,257.7 L593.3,250.0" fill="none" stroke="rgba(0,0,0,0.36)" stroke-width="0.6" stroke-linejoin="round"/>
<path d="M594.0,261.2 L590.0,270.0 L586.9,279.0 L583.3,289.6" fill="none" stroke="rgba(0,0,0,0.36)" stroke-width="0.6" stroke-linejoin="round"/>
<path d="M593.3,250.0 L598.0,254.0 L603.3,260.0" fill="none" stroke="rgba(0,0,0,0.36)" stroke-width="0.6" stroke-linejoin="round"/>
<path d="M626.7,280.0 L630.0,285.0 L646.7,286.0 L646.7,278.3" fill="none" stroke="rgba(0,0,0,0.36)" stroke-width="0.6" stroke-linejoin="round"/>
<path d="M646.7,286.0 L650.0,292.0 L645.0,296.7" fill="none" stroke="rgba(0,0,0,0.36)" stroke-width="0.6" stroke-linejoin="round"/>
<path d="M656.7,280.0 L653.0,290.0 L650.0,300.0" fill="none" stroke="rgba(0,0,0,0.36)" stroke-width="0.6" stroke-linejoin="round"/>
<path d="M472.5,297.7 L505.0,297.7" fill="none" stroke="rgba(0,0,0,0.36)" stroke-width="0.6" stroke-linejoin="round"/>
<path d="M662.4,307.1 L668.3,302.4 L671.9,310.7 L678.9,309.5 L684.8,318.9 L676.6,324.8 L673.0,324.8 L669.5,326.0 L667.1,335.5 L670.7,344.9 L667.1,339.0 L664.8,327.2 L663.6,314.2Z" fill="#d0d1e6" stroke="rgba(0,0,0,0.36)" stroke-width="0.6" stroke-linejoin="round"/>
<path d="M668.3,302.4 L675.4,296.5" fill="none" stroke="rgba(0,0,0,0.36)" stroke-width="0.6" stroke-linejoin="round"/>
<path d="M678.9,309.5 L684.0,304.0" fill="none" stroke="rgba(0,0,0,0.36)" stroke-width="0.6" stroke-linejoin="round"/>
<path d="M684.8,318.9 L691.0,318.0" fill="none" stroke="rgba(0,0,0,0.36)" stroke-width="0.6" stroke-linejoin="round"/>
<path d="M676.6,324.8 L680.0,330.0 L683.7,334.3" fill="none" stroke="rgba(0,0,0,0.36)" stroke-width="0.6" stroke-linejoin="round"/>
<path d="M662.4,307.1 L661.7,300.0 L666.0,297.7" fill="none" stroke="rgba(0,0,0,0.36)" stroke-width="0.6" stroke-linejoin="round"/>
<path d="M659.5,346.5 L665.0,346.3 L677.5,355.0 L686.3,365.0 L690.0,375.0 L688.8,381.3 L681.3,380.0 L672.5,370.0 L663.8,357.5 L659.5,348.8Z" fill="#fff7fb" stroke="rgba(0,0,0,0.36)" stroke-width="0.6" stroke-linejoin="round"/>
<path d="M687.5,382.5 L705.0,386.3 L712.5,388.8 L702.5,388.8 L687.5,385.0Z" fill="#fff7fb" stroke="rgba(0,0,0,0.36)" stroke-width="0.6" stroke-linejoin="round"/>
<path d="M715.0,388.5 L722.0,388.5 L723.0,390.5 L716.0,390.5Z" fill="#fff7fb" stroke="rgba(0,0,0,0.36)" stroke-width="0.6" stroke-linejoin="round"/>
<path d="M725.0,389.0 L731.0,388.5 L731.0,390.5 L726.0,391.0Z" fill="#fff7fb" stroke="rgba(0,0,0,0.36)" stroke-width="0.6" stroke-linejoin="round"/>
<path d="M734.0,389.0 L742.5,387.5 L741.0,390.5 L734.0,391.5Z" fill="#fff7fb" stroke="rgba(0,0,0,0.36)" stroke-width="0.6" stroke-linejoin="round"/>
<path d="M697.5,357.5 L705.0,347.5 L715.0,343.8 L722.5,345.0 L720.0,360.0 L717.5,370.0 L705.0,375.0 L697.5,370.0Z" fill="#fff7fb" stroke="rgba(0,0,0,0.36)" stroke-width="0.6" stroke-linejoin="round"/>
<path d="M703.0,356.0 L710.0,352.0 L717.0,355.0 L720.0,360.0" fill="none" stroke="rgba(0,0,0,0.36)" stroke-width="0.6" stroke-linejoin="round"/>
<path d="M725.0,358.0 L737.5,357.5 L731.0,362.0 L736.0,366.0 L731.0,368.0 L733.0,377.5 L728.0,380.0 L725.5,370.0 L723.0,365.0Z" fill="#fff7fb" stroke="rgba(0,0,0,0.36)" stroke-width="0.6" stroke-linejoin="round"/>
<path d="M722.5,308.8 L727.5,310.0 L728.8,320.0 L732.5,327.5 L726.2,326.2 L723.8,317.5Z" fill="#fff7fb" stroke="rgba(0,0,0,0.36)" stroke-width="0.6" stroke-linejoin="round"/>
<path d="M729.0,330.0 L737.0,331.0 L738.0,335.0 L731.0,335.0Z" fill="#fff7fb" stroke="rgba(0,0,0,0.36)" stroke-width="0.6" stroke-linejoin="round"/>
<path d="M730.0,335.5 L740.0,337.5 L741.2,345.0 L735.0,345.0 L731.2,341.2Z" fill="#fff7fb" stroke="rgba(0,0,0,0.36)" stroke-width="0.6" stroke-linejoin="round"/>
<path d="M718.0,332.0 L720.0,331.0 L717.0,338.0 L716.0,337.0Z" fill="#fff7fb" stroke="rgba(0,0,0,0.36)" stroke-width="0.6" stroke-linejoin="round"/>
<path d="M745.0,360.0 L748.0,359.0 L747.0,366.0 L745.0,365.0Z" fill="#fff7fb" stroke="rgba(0,0,0,0.36)" stroke-width="0.6" stroke-linejoin="round"/>
<path d="M755.0,367.5 L763.0,366.5 L770.0,368.8 L780.0,372.5 L792.5,380.0 L802.5,393.8 L790.0,387.5 L780.0,388.8 L770.0,382.5 L760.0,375.0Z" fill="#fff7fb" stroke="rgba(0,0,0,0.36)" stroke-width="0.6" stroke-linejoin="round"/>
<path d="M780.0,371.5 L780.0,385.0" fill="none" stroke="rgba(0,0,0,0.36)" stroke-width="0.6" stroke-linejoin="round"/>
<path d="M800.0,375.0 L812.5,372.0 L806.0,377.0Z" fill="#fff7fb" stroke="rgba(0,0,0,0.36)" stroke-width="0.6" stroke-linejoin="round"/>
<path d="M815.0,380.0 L822.0,384.0 L820.0,385.0Z" fill="#fff7fb" stroke="rgba(0,0,0,0.36)" stroke-width="0.6" stroke-linejoin="round"/>
<path d="M826.0,386.0 L832.5,393.8 L829.0,393.0Z" fill="#fff7fb" stroke="rgba(0,0,0,0.36)" stroke-width="0.6" stroke-linejoin="round"/>
<path d="M843.0,406.0 L845.0,412.0 L843.0,410.0Z" fill="#fff7fb" stroke="rgba(0,0,0,0.36)" stroke-width="0.6" stroke-linejoin="round"/>
<path d="M867.0,416.0 L872.0,413.0 L870.0,417.0Z" fill="#fff7fb" stroke="rgba(0,0,0,0.36)" stroke-width="0.6" stroke-linejoin="round"/>
<path d="M876.0,386.0 L880.0,385.0 L879.0,388.0Z" fill="#fff7fb" stroke="rgba(0,0,0,0.36)" stroke-width="0.6" stroke-linejoin="round"/>
<path d="M722.0,390.5 L735.0,392.0 L732.0,394.5Z" fill="#fff7fb" stroke="rgba(0,0,0,0.36)" stroke-width="0.6" stroke-linejoin="round"/>
<path d="M757.0,379.0 L760.0,379.0 L759.0,382.0Z" fill="#fff7fb" stroke="rgba(0,0,0,0.36)" stroke-width="0.6" stroke-linejoin="round"/>
<path d="M700.8,429.0 L707.1,425.8 L721.7,421.7 L730.0,413.3 L736.3,407.1 L742.5,405.0 L748.8,405.0 L755.0,397.7 L765.4,399.8 L763.3,407.1 L771.7,413.3 L775.8,414.4 L777.9,405.0 L782.1,395.6 L786.3,409.2 L788.3,417.5 L794.6,423.8 L798.8,432.1 L800.8,442.5 L796.7,452.9 L790.4,463.3 L780.0,473.8 L767.5,477.9 L759.2,474.8 L752.9,469.6 L750.8,465.4 L749.5,461.5 L748.5,464.5 L744.6,463.3 L734.2,459.2 L721.7,460.2 L709.2,463.3 L700.8,467.5 L696.7,465.4 L699.8,455.0 L699.8,442.5 L700.8,434.2Z" fill="#3690c0" stroke="rgba(0,0,0,0.36)" stroke-width="0.6" stroke-linejoin="round"/>
<path d="M757.1,486.3 L765.4,484.2 L763.3,490.4 L759.2,493.5 L756.0,490.4Z" fill="#3690c0" stroke="rgba(0,0,0,0.36)" stroke-width="0.6" stroke-linejoin="round"/>
<path d="M838.8,466.5 L840.4,471.7 L844.6,474.8 L846.7,476.3 L842.5,480.0 L838.3,484.2 L834.2,486.7 L831.0,485.2 L834.2,480.0 L837.3,474.8 L838.0,469.6Z" fill="#3690c0" stroke="rgba(0,0,0,0.36)" stroke-width="0.6" stroke-linejoin="round"/>
<path d="M827.9,485.2 L825.8,488.3 L819.6,492.5 L811.3,496.7 L802.9,499.8 L799.8,501.3 L805.0,501.9 L813.3,498.8 L821.7,494.6 L829.0,489.4 L830.0,486.3Z" fill="#3690c0" stroke="rgba(0,0,0,0.36)" stroke-width="0.6" stroke-linejoin="round"/>
<path d="M566.0,509.0 L570.0,508.5 L571.0,510.5 L567.0,511.0Z" fill="url(#hatch)" stroke="#bdbdbd" stroke-width="0.4" stroke-linejoin="round"/>
<path d="M372.0,283.0 L374.0,283.0 L374.0,284.5 L372.0,284.5Z" fill="#fff7fb" stroke="rgba(0,0,0,0.36)" stroke-width="0.35" stroke-linejoin="round"/>
<path d="M426.5,362.0 L427.5,362.0 L427.5,363.5 L426.5,363.5Z" fill="#fff7fb" stroke="rgba(0,0,0,0.36)" stroke-width="0.35" stroke-linejoin="round"/>
<path d="M552.0,418.0 L553.5,418.0 L553.5,419.5 L552.0,419.5Z" fill="#fff7fb" stroke="rgba(0,0,0,0.36)" stroke-width="0.35" stroke-linejoin="round"/>
</g>
<g id="legend" class="sans" font-size="15.2" fill="#333333">
<text x="158.2" y="601.2" text-anchor="middle">No data</text>
<rect x="131.5" y="608.5" width="53.5" height="11" fill="url(#hatch2)" stroke="#999" stroke-width="0.8"/>
<line x1="158.2" y1="605.5" x2="158.2" y2="608.5" stroke="#999" stroke-width="0.8"/>
<rect x="207.50" y="608.5" width="68.97" height="11" fill="#fff7fb" stroke="#999" stroke-width="0.8"/>
<rect x="276.47" y="608.5" width="68.97" height="11" fill="#ece7f2" stroke="#999" stroke-width="0.8"/>
<rect x="345.44" y="608.5" width="68.97" height="11" fill="#d0d1e6" stroke="#999" stroke-width="0.8"/>
<rect x="414.41" y="608.5" width="68.97" height="11" fill="#a6bddb" stroke="#999" stroke-width="0.8"/>
<rect x="483.38" y="608.5" width="68.97" height="11" fill="#74a9cf" stroke="#999" stroke-width="0.8"/>
<rect x="552.35" y="608.5" width="68.97" height="11" fill="#3690c0" stroke="#999" stroke-width="0.8"/>
<rect x="621.32" y="608.5" width="68.97" height="11" fill="#0570b0" stroke="#999" stroke-width="0.8"/>
<rect x="690.29" y="608.5" width="68.97" height="11" fill="#045a8d" stroke="#999" stroke-width="0.8"/>
<rect x="759.26" y="608.5" width="68.97" height="11" fill="#023858" stroke="#999" stroke-width="0.8"/>
<g stroke="#999" stroke-width="0.8">
<line x1="207.50" y1="588" x2="207.50" y2="608.5"/>
<line x1="276.47" y1="605" x2="276.47" y2="608.5"/>
<line x1="345.44" y1="588" x2="345.44" y2="608.5"/>
<line x1="414.41" y1="605" x2="414.41" y2="608.5"/>
<line x1="483.38" y1="588" x2="483.38" y2="608.5"/>
<line x1="552.35" y1="605" x2="552.35" y2="608.5"/>
<line x1="621.32" y1="588" x2="621.32" y2="608.5"/>
<line x1="690.29" y1="605" x2="690.29" y2="608.5"/>
<line x1="759.26" y1="588" x2="759.26" y2="608.5"/>
<line x1="828.23" y1="605" x2="828.23" y2="608.5"/>
</g>
<text x="207.50" y="584.2" text-anchor="middle">0 liters</text>
<text x="276.47" y="601.2" text-anchor="middle">0.1 liters</text>
<text x="345.44" y="584.2" text-anchor="middle">0.2 liters</text>
<text x="414.41" y="601.2" text-anchor="middle">0.5 liters</text>
<text x="483.38" y="584.2" text-anchor="middle">1 liters</text>
<text x="552.35" y="601.2" text-anchor="middle">2 liters</text>
<text x="621.32" y="584.2" text-anchor="middle">5 liters</text>
<text x="690.29" y="601.2" text-anchor="middle">10 liters</text>
<text x="759.26" y="584.2" text-anchor="middle">20 liters</text>
<text x="828.23" y="601.2" text-anchor="middle">50 liters</text>
</g>
<text class="sans" x="19.1" y="656.7" font-size="14.63" fill="#858585"><tspan font-weight="bold">Data source:</tspan> World Health Organization - Global Health Observatory (2024)</text>
<text class="sans" x="939.7" y="656.7" font-size="14.63" fill="#858585" text-anchor="end">OurWorldinData.org/alcohol-consumption | CC BY</text>
</svg>
</body></html>
